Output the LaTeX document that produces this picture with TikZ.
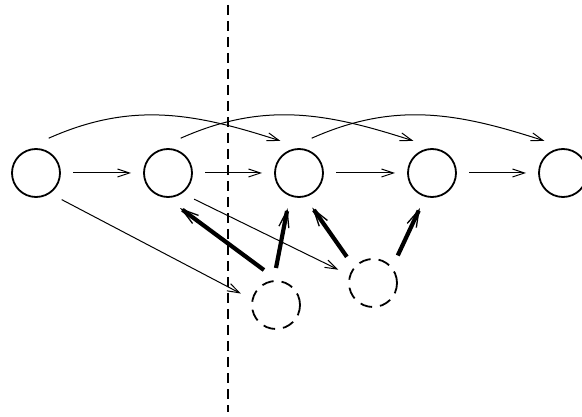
\documentclass[tikz,border=0pt]{standalone}
\usetikzlibrary{arrows.meta}

\begin{document}
\begin{tikzpicture}[x=1pt,y=-1pt,
  state/.style={circle, draw, line width=1.8pt, minimum size=48pt, inner sep=0pt, outer sep=13pt},
  ghost/.style={state, dash pattern=on 12pt off 8pt},
  thinarr/.style={line width=1pt, -{Straight Barb[length=12pt,width=8pt,line width=1pt]}},
  thickarr/.style={line width=4.2pt, -{Straight Barb[length=17pt,width=10pt,line width=1.3pt]}}]
\useasboundingbox (0,0) rectangle (582,417);

\node[state] (c1) at (36,173) {};
\node[state] (c2) at (168,173) {};
\node[state] (c3) at (299,173) {};
\node[state] (c4) at (432,173) {};
\node[state] (c5) at (563,173) {};

\node[ghost] (d1) at (276,305) {};
\node[ghost] (d2) at (373,283) {};

\coordinate (top) at (228,5);
\coordinate (bot) at (228,412);
\draw[line width=2.2pt, dash pattern=on 10pt off 6pt] (top) -- (bot);

\draw[thinarr] (c1) -- (c2);
\draw[thinarr] (c2) -- (c3);
\draw[thinarr] (c3) -- (c4);
\draw[thinarr] (c4) -- (c5);

\draw[thinarr] (c1.70) to[out=24,in=162] (c3.120);
\draw[thinarr] (c2.70) to[out=24,in=162] (c4.120);
\draw[thinarr] (c3.70) to[out=24,in=162] (c5.120);

\draw[thinarr] (c1.-46) -- (d1.162);
\draw[thinarr] (c2.-45) -- (d2.159);

\draw[thickarr] (d1.109) -- (c2.-71);
\draw[thickarr] (d1.90) -- (c3.-108);
\draw[thickarr] (d2.135) -- (c3.-69);
\draw[thickarr] (d2.48) -- (c4.-109);
\end{tikzpicture}
\end{document}
